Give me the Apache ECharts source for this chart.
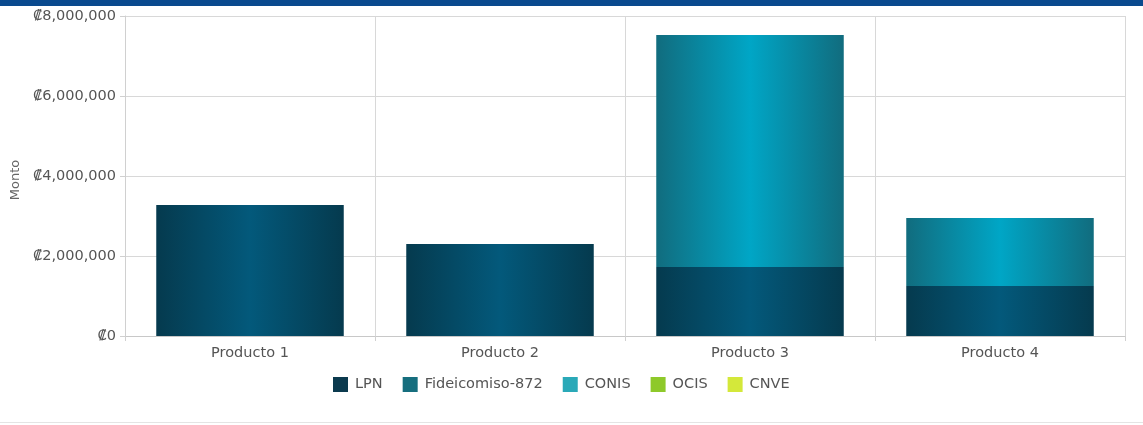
<!DOCTYPE html>
<html>
<head>
<meta charset="utf-8">
<script src="https://cdn.jsdelivr.net/npm/echarts@6/dist/echarts.min.js"></script>
<style>
    html, body { margin: 0; padding: 0; background: #fff; }
    #main { width: 1143px; height: 425px; }
</style>
</head>
<body>
<div id="main"></div>
<script>
    // datos del grafico
    var categorias = ['Producto 1', 'Producto 2', 'Producto 3', 'Producto 4'];
    var lpn = [3275000, 2300000, 1725000, 1250000];
    var fideicomiso = [0, 0, 5800000, 1700000];
    var conis = [0, 0, 0, 0];
    var ocis = [0, 0, 0, 0];
    var cnve = [0, 0, 0, 0];
    var yTicks = [0, 2000000, 4000000, 6000000, 8000000];

    function degradado(borde, centro) {
        return new echarts.graphic.LinearGradient(0, 0, 1, 0, [
            {offset: 0, color: borde},
            {offset: 0.5, color: centro},
            {offset: 1, color: borde}
        ]);
    }

    function formatoMonto(v) {
        return '\u20A1' + v.toString().replace(/\B(?=(\d{3})+(?!\d))/g, ',');
    }

    var fuente = 'DejaVu Sans';
    var myChart = echarts.init(document.getElementById('main'));
    var option = {
        animation: false,
        textStyle: {fontFamily: fuente},
        graphic: [
            {type: 'rect', shape: {x: 0, y: 0, width: 1143, height: 6}, style: {fill: '#0a4a8e'}},
            {type: 'rect', shape: {x: 0, y: 422, width: 1143, height: 1}, style: {fill: '#e4e4e4'}}
        ],
        grid: {left: 125, right: 18, top: 16, bottom: 89},
        legend: {
            top: 377,
            left: 333,
            padding: 0,
            itemWidth: 15,
            itemHeight: 15,
            itemGap: 20,
            icon: 'rect',
            textStyle: {color: '#555', fontSize: 14.5, fontFamily: fuente, padding: [0, 0, 0, 2]},
            data: [
                {name: 'LPN', itemStyle: {color: '#0b3a4e'}},
                {name: 'Fideicomiso-872', itemStyle: {color: '#166e7e'}},
                {name: 'CONIS', itemStyle: {color: '#2aa9b8'}},
                {name: 'OCIS', itemStyle: {color: '#8ec92a'}},
                {name: 'CNVE', itemStyle: {color: '#d4e83a'}}
            ]
        },
        xAxis: {
            type: 'category',
            data: categorias,
            axisLine: {lineStyle: {color: '#c8c8c8'}},
            axisTick: {show: true, length: 5, lineStyle: {color: '#d0d0d0'}},
            axisLabel: {color: '#555', fontSize: 14.5, margin: 10},
            splitLine: {show: true, lineStyle: {color: '#d8d8d8'}}
        },
        yAxis: {
            type: 'value',
            min: 0,
            max: yTicks[yTicks.length - 1],
            interval: yTicks[1] - yTicks[0],
            name: 'Monto',
            nameLocation: 'middle',
            nameGap: 102,
            nameTextStyle: {color: '#666', fontSize: 13, padding: [0, 0, 0, -8]},
            axisLine: {show: true, lineStyle: {color: '#d0d0d0'}},
            axisTick: {show: true, length: 5, lineStyle: {color: '#d0d0d0'}},
            axisLabel: {color: '#555', fontSize: 14.5, margin: 9, formatter: formatoMonto},
            splitLine: {lineStyle: {color: '#d8d8d8'}}
        },
        series: [
            {name: 'LPN', type: 'bar', stack: 'total', barWidth: '75%', data: lpn,
                itemStyle: {color: degradado('#053a4e', '#03597b')}},
            {name: 'Fideicomiso-872', type: 'bar', stack: 'total', data: fideicomiso,
                itemStyle: {color: degradado('#116c7e', '#00a6c6')}},
            {name: 'CONIS', type: 'bar', stack: 'total', data: conis, itemStyle: {color: '#2aa9b8'}},
            {name: 'OCIS', type: 'bar', stack: 'total', data: ocis, itemStyle: {color: '#8ec92a'}},
            {name: 'CNVE', type: 'bar', stack: 'total', data: cnve, itemStyle: {color: '#d4e83a'}}
        ]
    };
    myChart.setOption(option);
</script>
</body>
</html>
